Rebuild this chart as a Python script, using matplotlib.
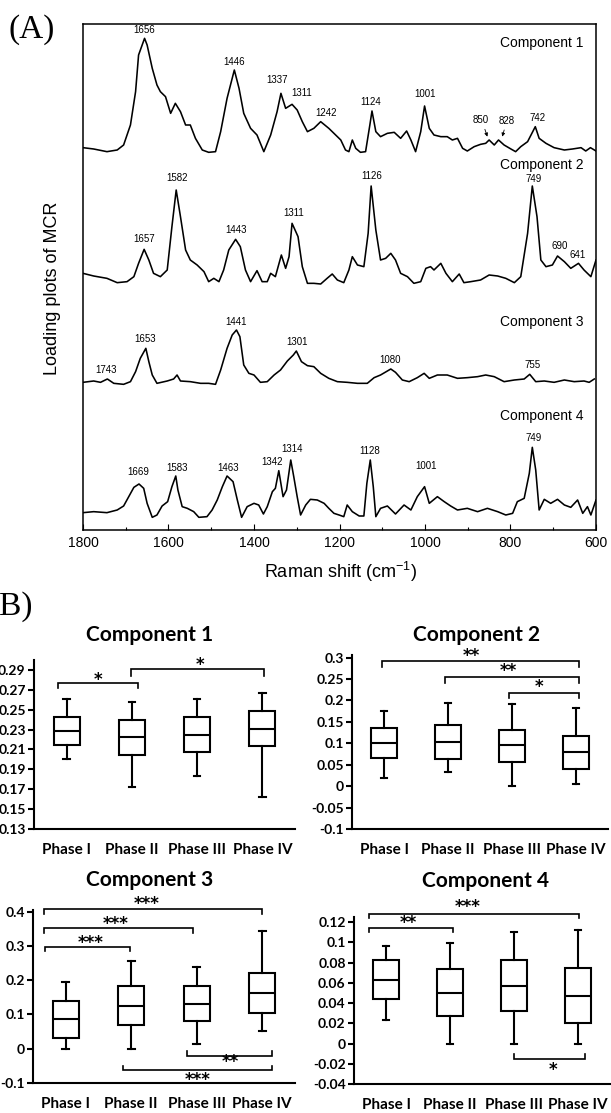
import numpy as np
import matplotlib
matplotlib.use("Agg")
import matplotlib.pyplot as plt

plt.rcParams["mathtext.default"] = "regular"

# ---------------- Data: MCR loading spectra (Raman shift, relative intensity) ----------------
c1_shift = [1800,1775,1744,1720,1705,1689,1677,1670,1656,1650,1638,1627,1619,1607,1595,1584,1572,1560,1549,1537,
            1521,1506,1490,1478,1463,1446,1435,1424,1408,1393,1377,1361,1346,1337,1326,1311,1299,1287,1275,1260,
            1244,1225,1209,1197,1186,1178,1170,1162,1151,1139,1129,1124,1115,1104,1088,1072,1057,1043,1033,1022,
            1010,1001,990,979,963,948,936,924,912,901,885,870,858,850,838,828,815,799,788,776,760,742,733,717,
            698,674,655,635,624,613,600]
c1_int = [14,10,2,7,22,82,182,292,342,322,252,202,182,167,117,147,122,82,82,42,
          7,0,2,62,162,247,192,117,72,52,2,52,122,177,132,144,127,92,62,72,
          92,72,52,37,7,2,37,12,0,2,82,124,62,47,57,60,42,64,37,2,
          62,139,72,52,47,47,37,42,12,4,17,24,27,37,22,37,22,10,2,17,32,77,42,27,
          14,7,10,14,4,14,4]

c2_shift = [1800,1775,1744,1720,1697,1681,1670,1657,1646,1635,1619,1603,1592,1582,1572,1560,1549,1533,1517,1506,
            1494,1482,1471,1459,1443,1432,1420,1408,1393,1381,1369,1361,1350,1336,1326,1318,1311,1297,1287,1275,
            1260,1244,1229,1217,1205,1190,1178,1170,1158,1143,1133,1126,1115,1104,1092,1080,1069,1057,1041,1026,
            1010,998,987,979,963,951,936,920,909,893,870,850,830,811,791,776,760,749,738,729,717,702,690,674,
            659,641,628,612,600]
c2_int = [32,24,17,4,7,22,62,104,72,32,22,42,172,282,202,102,72,57,37,7,
          17,7,42,102,134,112,42,7,40,7,7,32,22,87,47,82,182,142,52,2,
          2,0,17,30,12,4,42,82,57,52,152,294,162,72,77,92,72,32,22,2,
          7,47,52,42,62,32,7,30,4,7,12,27,24,17,4,22,152,294,202,72,52,57,84,67,
          47,62,42,22,72]

c3_shift = [1800,1775,1759,1743,1728,1705,1689,1677,1666,1653,1646,1638,1627,1603,1588,1580,1572,1549,1525,1506,
            1490,1478,1463,1451,1441,1433,1424,1412,1400,1385,1369,1353,1338,1322,1308,1301,1289,1275,1260,1244,
            1225,1205,1182,1158,1135,1119,1104,1080,1069,1053,1037,1018,1002,990,971,948,924,901,877,858,
            838,815,791,768,755,741,721,698,674,651,628,616,604]
c3_int = [6,10,6,16,3,0,8,38,78,108,68,28,3,10,16,28,10,8,3,3,
          0,43,108,148,163,143,58,33,28,6,8,28,43,70,88,100,68,56,53,33,
          18,8,6,3,3,20,28,46,36,13,8,20,33,18,28,28,18,20,23,28,
          23,8,13,16,30,8,10,6,13,8,10,6,16]

c4_shift = [1800,1775,1744,1720,1705,1693,1681,1669,1658,1650,1638,1627,1615,1602,1592,1583,1578,1568,1556,1541,
            1529,1510,1498,1486,1474,1463,1449,1439,1429,1416,1400,1389,1378,1369,1357,1350,1342,1332,1324,1314,
            1307,1299,1291,1279,1268,1252,1236,1225,1213,1201,1190,1182,1170,1154,1143,1136,1128,1121,1115,1104,
            1088,1069,1049,1033,1018,1001,990,971,955,940,924,901,877,854,830,811,795,784,768,756,
            749,741,733,721,706,690,674,659,643,631,620,612,600]
c4_int = [14,17,14,22,34,62,90,100,87,42,0,7,34,47,92,124,82,32,27,17,
          0,2,22,52,92,124,107,52,0,32,42,37,10,32,77,87,140,62,82,172,
          122,62,7,37,54,52,42,27,12,7,2,37,17,4,4,102,172,92,2,27,
          34,10,37,22,62,92,42,62,47,34,22,27,17,27,17,7,12,47,57,132,
          210,142,22,54,42,54,37,30,52,12,32,7,52]

spectra = [(c1_shift, c1_int), (c2_shift, c2_int), (c3_shift, c3_int), (c4_shift, c4_int)]
component_names = ["Component 1", "Component 2", "Component 3", "Component 4"]

# peak labels: (text, x position, y position)
peak_labels = [
    ("1656", 1656, -30.0), ("1446", 1446, -61.7), ("1337", 1346, -80.0), ("1311", 1289, -93.3),
    ("1242", 1232, -113.3), ("1124", 1127, -101.7), ("1001", 1000, -94.3), ("850", 870, -120.0),
    ("828", 809, -121.0), ("742", 737, -117.7),
    ("1657", 1658, -239.3), ("1582", 1580, -178.3), ("1443", 1442, -230.0), ("1311", 1307, -212.7),
    ("1126", 1125, -176.0), ("749", 747, -179.3), ("690", 685, -246.0), ("641", 642, -255.0),
    ("1743", 1745, -370.0), ("1653", 1654, -339.3), ("1441", 1441, -322.3), ("1301", 1299, -341.7),
    ("1080", 1082, -360.0), ("755", 749, -365.0),
    ("1669", 1670, -471.7), ("1583", 1580, -467.7), ("1463", 1460, -467.7), ("1342", 1357, -462.3),
    ("1314", 1310, -449.0), ("1128", 1129, -451.0), ("1001", 997, -465.7), ("749", 746, -438.3),
]

# ---------------- Data: box plot statistics ----------------
phases = ["Phase I", "Phase II", "Phase III", "Phase IV"]

c1_min = [0.200, 0.172, 0.183, 0.162]
c1_q1  = [0.215, 0.204, 0.207, 0.213]
c1_med = [0.229, 0.223, 0.225, 0.231]
c1_q3  = [0.243, 0.240, 0.243, 0.249]
c1_max = [0.261, 0.258, 0.261, 0.267]

c2_min = [0.018, 0.034, 0.000, 0.006]
c2_q1  = [0.065, 0.064, 0.056, 0.039]
c2_med = [0.100, 0.104, 0.095, 0.079]
c2_q3  = [0.136, 0.142, 0.132, 0.118]
c2_max = [0.176, 0.195, 0.192, 0.182]

c3_min = [0.000, 0.000, 0.015, 0.052]
c3_q1  = [0.032, 0.069, 0.080, 0.105]
c3_med = [0.086, 0.126, 0.131, 0.164]
c3_q3  = [0.140, 0.182, 0.184, 0.222]
c3_max = [0.196, 0.257, 0.240, 0.345]

c4_min = [0.023, 0.000, 0.000, 0.000]
c4_q1  = [0.044, 0.027, 0.032, 0.020]
c4_med = [0.063, 0.050, 0.057, 0.047]
c4_q3  = [0.083, 0.074, 0.083, 0.075]
c4_max = [0.096, 0.099, 0.110, 0.112]

c1_ticks = ["0.13", "0.15", "0.17", "0.19", "0.21", "0.23", "0.25", "0.27", "0.29"]
c2_ticks = ["-0.1", "-0.05", "0", "0.05", "0.1", "0.15", "0.2", "0.25", "0.3"]
c3_ticks = ["-0.1", "0", "0.1", "0.2", "0.3", "0.4"]
c4_ticks = ["-0.04", "-0.02", "0", "0.02", "0.04", "0.06", "0.08", "0.1", "0.12"]

# significance brackets: (x1, x2, y_line, y_end, stars, x_stars, y_stars)
c1_sig = [(0.37, 1.59, 0.2766, 0.2723, "*", 0.98, 0.2816),
          (1.48, 3.53, 0.2910, 0.2840, "*", 2.54, 0.2967)]
c2_sig = [(0.47, 3.55, 0.2922, 0.2774, "**", 1.87, 0.3062),
          (1.46, 3.55, 0.2540, 0.2400, "**", 2.44, 0.2712),
          (2.45, 3.55, 0.2166, 0.2050, "*", 2.92, 0.2337)]
c3_sig = [(0.17, 3.50, 0.4068, 0.3930, "***", 1.73, 0.4260),
          (0.17, 2.45, 0.3515, 0.3380, "***", 1.26, 0.3680),
          (0.19, 1.48, 0.2960, 0.2845, "***", 0.88, 0.3126),
          (2.35, 3.65, -0.0204, -0.0078, "**", 3.02, -0.0350),
          (1.38, 3.65, -0.0631, -0.0515, "***", 2.51, -0.0864)]
c4_sig = [(0.23, 3.52, 0.1282, 0.1239, "***", 1.78, 0.1364),
          (0.23, 1.54, 0.1141, 0.1101, "**", 0.85, 0.1200),
          (2.50, 3.61, -0.0153, -0.0107, "*", 3.11, -0.0245)]

# ---------------- Figure ----------------
W, H = 611, 1113
fig = plt.figure(figsize=(W / 100, H / 100), dpi=100)
fig.patch.set_facecolor("white")

SANS = "Liberation Sans"
BOLD = "Lato"
SERIF = "Liberation Serif"

def frac_box(x0, y0, x1, y1):
    return [x0 / W, 1 - y1 / H, (x1 - x0) / W, (y1 - y0) / H]

# ---- Panel A ----
ax = fig.add_axes(frac_box(83, 24, 596, 530))
offsets = [-152.33, -284.0, -384.33, -517.33]
for (sx, si), off in zip(spectra, offsets):
    ax.plot(sx, np.asarray(si) / 3.0 + off, color="black", lw=1.15)
ax.set_xlim(1800, 600)
ax.set_ylim(-530, -24)
ax.set_yticks([])
ax.set_xticks(np.arange(1800, 599, -200))
ax.set_xticks(np.arange(1700, 599, -200), minor=True)
ax.tick_params(axis="x", which="major", direction="in", length=4, width=0.8, labelsize=10, pad=4)
ax.tick_params(axis="x", which="minor", direction="in", length=2.5, width=0.8)
for lab in ax.get_xticklabels():
    lab.set_fontfamily(SANS)
for s in ax.spines.values():
    s.set_linewidth(1.1)
for t, x, y in peak_labels:
    ax.text(x, y, t, ha="center", va="center", fontsize=7, family=SANS)
ax.annotate("", xy=(852, -139.3), xytext=(862, -126.7),
            arrowprops=dict(arrowstyle="-|>", lw=0.6, color="black", mutation_scale=5))
ax.annotate("", xy=(821, -139.3), xytext=(813, -127.3),
            arrowprops=dict(arrowstyle="-|>", lw=0.6, color="black", mutation_scale=5))
for name, y in zip(component_names, [-43, -165, -322, -416]):
    ax.text(630, y, name, ha="right", va="center", fontsize=10, family=SANS)

fig.text(340 / W, 1 - 572 / H, "Raman shift (cm$^{-1}$)", ha="center", va="center",
         fontsize=13, family=SANS)
fig.text(53 / W, 1 - 288 / H, "Loading plots of MCR", ha="center", va="center",
         rotation=90, fontsize=13, family=SANS)
fig.text(9 / W, 1 - 38 / H, "(A)", ha="left", va="baseline", fontsize=24, family=SERIF)
fig.text(-12 / W, 1 - 615 / H, "(B)", ha="left", va="baseline", fontsize=24, family=SERIF)

# ---- Panel B ----
def boxpanel(rect, mins, q1s, meds, q3s, maxs, ylim, ticks, sig, title, title_xy):
    bx = fig.add_axes(frac_box(*rect))
    stats = [dict(whislo=a, q1=b, med=c, q3=d, whishi=e, fliers=[])
             for a, b, c, d, e in zip(mins, q1s, meds, q3s, maxs)]
    lw = 1.5
    bx.bxp(stats, positions=[0.5, 1.5, 2.5, 3.5], widths=0.4, capwidths=0.1,
           showfliers=False, patch_artist=True,
           boxprops=dict(facecolor="white", edgecolor="black", linewidth=lw),
           medianprops=dict(color="black", linewidth=lw),
           whiskerprops=dict(color="black", linewidth=lw),
           capprops=dict(color="black", linewidth=lw))
    bx.set_xlim(0, 4)
    bx.set_ylim(*ylim)
    tv = [float(t) for t in ticks]
    bx.set_yticks(tv)
    bx.set_yticklabels(ticks)
    bx.set_xticks([0.5, 1.5, 2.5, 3.5])
    bx.set_xticklabels(phases)
    for s in ["top", "right"]:
        bx.spines[s].set_visible(False)
    for s in ["left", "bottom"]:
        bx.spines[s].set_linewidth(1.5)
    bx.tick_params(axis="y", direction="out", length=4, width=1.5, labelsize=10, pad=2)
    bx.tick_params(axis="x", length=0, labelsize=11, pad=10)
    for lab in bx.get_xticklabels() + bx.get_yticklabels():
        lab.set_fontfamily(BOLD)
        lab.set_fontweight("bold")
    for x1, x2, yl, ye, st, xs, ys in sig:
        bx.plot([x1, x1, x2, x2], [ye, yl, yl, ye], color="black", lw=1.2,
                clip_on=False, solid_joinstyle="miter")
        bx.annotate(st, xy=(xs, ys), xytext=(0, -1), textcoords="offset points",
                    ha="center", va="center", fontsize=12, family="DejaVu Sans",
                    fontweight="bold", annotation_clip=False)
    fig.text(title_xy[0] / W, 1 - title_xy[1] / H, title, ha="center", va="center",
             fontsize=15, family=BOLD, fontweight="bold")
    return bx

boxpanel((34, 660, 295, 829), c1_min, c1_q1, c1_med, c1_q3, c1_max, (0.13, 0.30),
         c1_ticks, c1_sig, "Component 1", (150, 635))
boxpanel((352, 655, 608, 829), c2_min, c2_q1, c2_med, c2_q3, c2_max, (-0.1, 0.306),
         c2_ticks, c2_sig, "Component 2", (477, 635))
boxpanel((33, 910, 295, 1083), c3_min, c3_q1, c3_med, c3_q3, c3_max, (-0.1, 0.405),
         c3_ticks, c3_sig, "Component 3", (150, 880))
boxpanel((354, 917, 610, 1084), c4_min, c4_q1, c4_med, c4_q3, c4_max, (-0.04, 0.125),
         c4_ticks, c4_sig, "Component 4", (486, 881))

fig.savefig("out.png", dpi=100)
